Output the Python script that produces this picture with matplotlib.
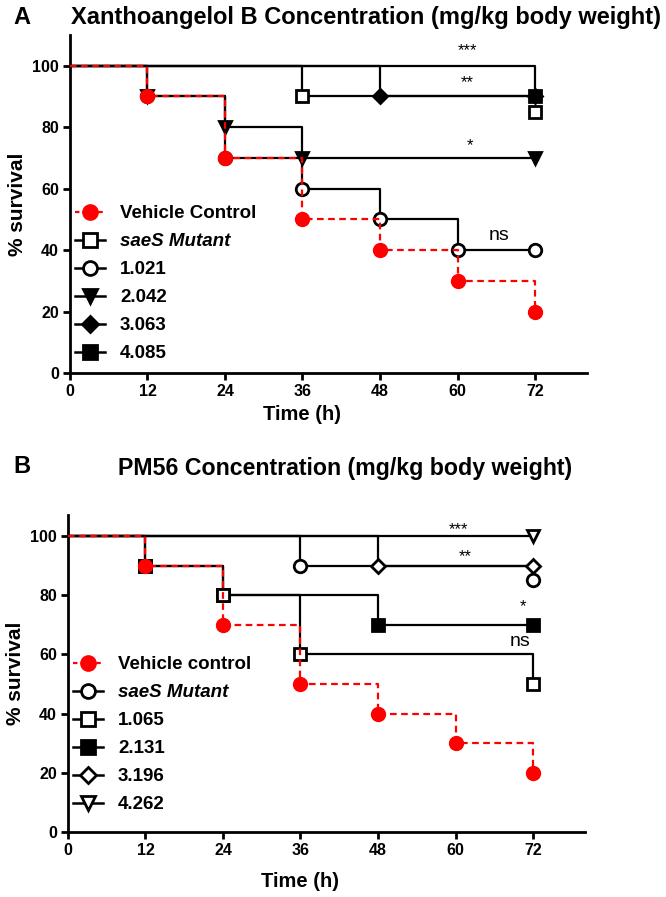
import numpy as np
import matplotlib
matplotlib.use("Agg")
import matplotlib.pyplot as plt
from matplotlib.lines import Line2D

plt.rcParams['font.family'] = ['Liberation Sans', 'DejaVu Sans']

# Zeitpunkte (h)
time_h = [0, 12, 24, 36, 48, 60, 72]

# Panel A - Xanthoangelol B
labels_a = ["Vehicle Control", "saeS Mutant", "1.021", "2.042", "3.063", "4.085"]
surv_a = [
    [100, 90, 70, 50, 40, 30, 20],
    [100, 100, 100, 90, 90, 90, 90],
    [100, 90, 70, 60, 50, 40, 40],
    [100, 90, 80, 70, 70, 70, 70],
    [100, 100, 100, 100, 90, 90, 90],
    [100, 100, 100, 100, 100, 100, 90],
]
mark_t_a = [[12, 24, 36, 48, 60, 72], [36, 72], [12, 24, 36, 48, 60, 72],
            [12, 24, 36, 72], [48, 72], [72]]
mark_y_a = [[90, 70, 50, 40, 30, 20], [90, 85], [90, 70, 60, 50, 40, 40],
            [90, 80, 70, 70], [90, 90], [90]]
stars_a = ["***", "**", "*", "ns"]
stars_a_x = [61.5, 61.5, 62, 66.5]
stars_a_y = [102.5, 92, 71.5, 42]

# Panel B - PM56
labels_b = ["Vehicle control", "saeS Mutant", "1.065", "2.131", "3.196", "4.262"]
surv_b = [
    [100, 90, 70, 50, 40, 30, 20],
    [100, 100, 100, 90, 90, 90, 90],
    [100, 90, 80, 60, 60, 60, 50],
    [100, 90, 80, 80, 70, 70, 70],
    [100, 100, 100, 100, 90, 90, 90],
    [100, 100, 100, 100, 100, 100, 100],
]
mark_t_b = [[12, 24, 36, 48, 60, 72], [36, 72], [12, 24, 36, 72],
            [12, 24, 48, 72], [48, 72], [72]]
mark_y_b = [[90, 70, 50, 40, 30, 20], [90, 85], [90, 80, 60, 50],
            [90, 80, 70, 70], [90, 90], [100]]
stars_b = ["***", "**", "*", "ns"]
stars_b_x = [60.5, 61.5, 70.5, 70]
stars_b_y = [99.5, 90.5, 73.5, 61.5]

# Stil pro Serie: (marker, fill)
style_a = [("o", "red"), ("s", "white"), ("o", "white"), ("v", "black"),
           ("D", "black"), ("s", "black")]
style_b = [("o", "red"), ("o", "white"), ("s", "white"), ("s", "black"),
           ("D", "white"), ("v", "white")]


def draw_panel(ax, surv, mark_t, mark_y, labels, styles, stars, sx, sy, ymax,
               leg_y, xlab_y):
    handles = []
    # schwarze Kurven zuerst, Kontrolle (rot gestrichelt) oben drauf
    for i in range(len(surv) - 1, -1, -1):
        m, fc = styles[i]
        ms = 7 if m == "D" else 9
        if i == 0:
            ax.step(time_h, surv[i], where="post", color="red", lw=1.6,
                    dashes=(3, 2), zorder=5)
            ax.plot(mark_t[i], mark_y[i], ls="none", marker=m, ms=10,
                    mfc="red", mec="red", zorder=6)
        else:
            ax.step(time_h, surv[i], where="post", color="black", lw=1.6, zorder=2)
            ax.plot(mark_t[i], mark_y[i], ls="none", marker=m, ms=ms, mfc=fc,
                    mec="black", mew=2, zorder=3)
    for i in range(len(surv)):
        m, fc = styles[i]
        if i == 0:
            h = Line2D([], [], color="red", lw=1.6, dashes=(2, 1.5), marker=m,
                       ms=11, mfc="red", mec="red")
        else:
            h = Line2D([], [], color="black", lw=1.8, marker=m,
                       ms=8 if m == "D" else 10, mfc=fc, mec="black", mew=2)
        handles.append(h)

    for s, x, y in zip(stars, sx, sy):
        fs = 14 if s == "ns" else 12
        ax.text(x, y, s, ha="center", va="bottom", fontsize=fs, color="black")

    ax.set_xlim(0, 80)
    ax.set_ylim(0, ymax)
    ax.set_xticks(time_h)
    ax.set_yticks([0, 20, 40, 60, 80, 100])
    ax.spines["top"].set_visible(False)
    ax.spines["right"].set_visible(False)
    ax.spines["left"].set_linewidth(2)
    ax.spines["bottom"].set_linewidth(2)
    ax.tick_params(width=2, length=5, labelsize=11.5, pad=3)
    for lbl in ax.get_xticklabels() + ax.get_yticklabels():
        lbl.set_fontweight("bold")
    ax.set_xlabel("Time (h)", fontsize=14.5, fontweight="bold")
    ax.xaxis.set_label_coords(0.45, xlab_y)
    ax.set_ylabel("% survival", fontsize=15, fontweight="bold", labelpad=4)

    leg = ax.legend(handles, labels, loc="upper left", frameon=False,
                    bbox_to_anchor=(0.01, leg_y), borderaxespad=0, borderpad=0,
                    handlelength=1.6, handletextpad=0.8, labelspacing=0.58,
                    prop={"weight": "bold", "size": 13.5})
    for t in leg.get_texts():
        if t.get_text().startswith("saeS"):
            t.set_fontstyle("italic")
    return ax


fig = plt.figure(figsize=(6.66, 8.97), dpi=100)
ax_a = fig.add_axes([0.105, 0.584, 0.776, 0.377])
ax_b = fig.add_axes([0.102, 0.0725, 0.776, 0.353])

draw_panel(ax_a, surv_a, mark_t_a, mark_y_a, labels_a, style_a,
           stars_a, stars_a_x, stars_a_y, 110, 0.497, -0.095)
draw_panel(ax_b, surv_b, mark_t_b, mark_y_b, labels_b, style_b,
           stars_b, stars_b_x, stars_b_y, 107, 0.555, -0.125)

fig.text(0.033, 0.98, "A", fontsize=17, fontweight="bold", ha="center", va="center")
fig.text(0.549, 0.98, "Xanthoangelol B Concentration (mg/kg body weight)",
         fontsize=17, fontweight="bold", ha="center", va="center")
fig.text(0.033, 0.48, "B", fontsize=17, fontweight="bold", ha="center", va="center")
fig.text(0.518, 0.478, "PM56 Concentration (mg/kg body weight)",
         fontsize=16.7, fontweight="bold", ha="center", va="center")

fig.savefig("out.png", dpi=100)
